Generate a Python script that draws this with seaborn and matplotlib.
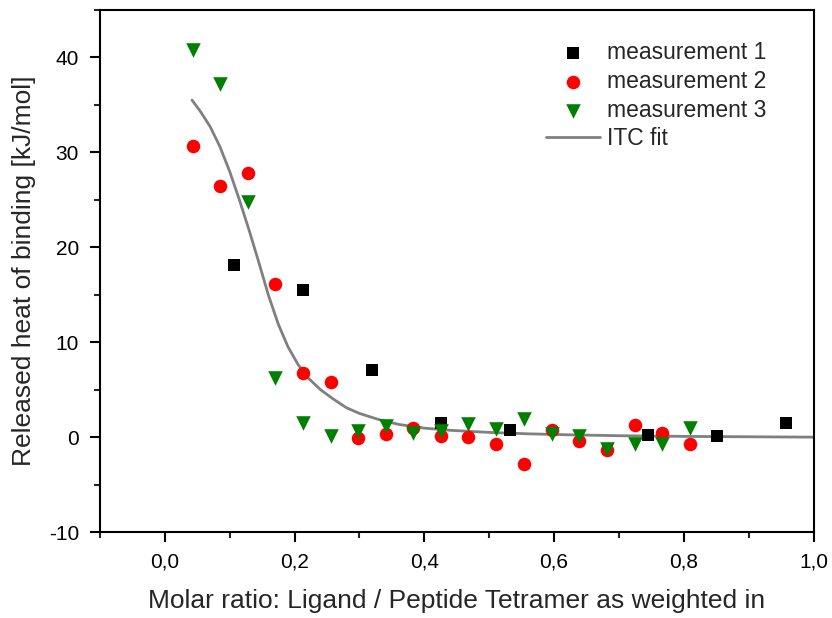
import numpy as np
import pandas as pd
import matplotlib
matplotlib.use("Agg")
import matplotlib.pyplot as plt
import seaborn as sns
from matplotlib.ticker import MultipleLocator, FuncFormatter

# data
m1_x = [0.106, 0.213, 0.319, 0.426, 0.532, 0.745, 0.851, 0.958]
m1_y = [18.1, 15.5, 7.1, 1.5, 0.8, 0.2, 0.1, 1.5]

m23_x = [0.043, 0.085, 0.128, 0.170, 0.213, 0.256, 0.298, 0.341, 0.383, 0.426,
         0.468, 0.511, 0.553, 0.596, 0.639, 0.681, 0.724, 0.766, 0.809]
m2_y = [30.7, 26.5, 27.8, 16.1, 6.8, 5.8, -0.1, 0.3, 1.0, 0.1,
        0.0, -0.7, -2.8, 0.8, -0.4, -1.4, 1.3, 0.4, -0.7]
m3_y = [40.8, 37.2, 24.8, 6.2, 1.5, 0.1, 0.7, 1.2, 0.4, 0.7,
        1.4, 0.9, 1.9, 0.3, 0.15, -1.2, -0.7, -0.7, 1.0]

# ITC fit curve
fit_x = [0.042, 0.055, 0.07, 0.085, 0.10, 0.115, 0.13, 0.145, 0.16, 0.175,
         0.19, 0.205, 0.22, 0.24, 0.26, 0.28, 0.30, 0.33, 0.36, 0.40,
         0.44, 0.50, 0.56, 0.62, 0.70, 0.80, 0.90, 1.0]
fit_y = [35.5, 34.3, 32.7, 30.6, 28.0, 25.0, 21.8, 18.4, 14.9, 11.9,
         9.5, 7.7, 6.3, 5.0, 4.0, 3.1, 2.5, 1.85, 1.35, 0.95,
         0.72, 0.5, 0.35, 0.25, 0.15, 0.08, 0.04, 0.0]

sns.set_style("ticks")
plt.rcParams['font.family'] = ['Liberation Sans', 'DejaVu Sans']

fig = plt.figure(figsize=(8.32, 6.18), dpi=100)
ax = fig.add_axes([0.120, 0.139, 0.858, 0.845])

sns.scatterplot(x=m1_x, y=m1_y, marker='s', s=70, color='black', linewidth=0,
                label='measurement 1', ax=ax, zorder=3)
sns.scatterplot(x=m23_x, y=m2_y, marker='o', s=95, color='#ff0000', linewidth=0,
                label='measurement 2', ax=ax, zorder=3)
sns.scatterplot(x=m23_x, y=m3_y, marker='v', s=110, color='#008000', linewidth=0,
                label='measurement 3', ax=ax, zorder=3)
sns.lineplot(x=fit_x, y=fit_y, color='#808080', linewidth=2, label='ITC fit',
             ax=ax, zorder=2, sort=False)

ax.set_xlim(-0.1, 1.0)
ax.set_ylim(-10, 45)
ax.xaxis.set_major_locator(MultipleLocator(0.2))
ax.xaxis.set_minor_locator(MultipleLocator(0.1))
ax.yaxis.set_major_locator(MultipleLocator(10))
ax.yaxis.set_minor_locator(MultipleLocator(5))
ax.xaxis.set_major_formatter(FuncFormatter(
    lambda v, p: "" if v < -0.01 else f"{v:.1f}".replace(".", ",")))
ax.yaxis.set_major_formatter(FuncFormatter(lambda v, p: f"{v:.0f}"))

for s in ax.spines.values():
    s.set_linewidth(1.5)
    s.set_color('black')
ax.tick_params(which='major', direction='out', length=7, width=1.5,
               labelsize=15, colors='black', top=False, right=False, pad=8)
ax.tick_params(which='minor', direction='out', length=4, width=1.5,
               top=False, right=False)

ax.set_xlabel("Molar ratio: Ligand / Peptide Tetramer as weighted in",
              fontsize=19, labelpad=12)
ax.set_ylabel("Released heat of binding [kJ/mol]", fontsize=19, labelpad=9)

ax.legend(loc='upper left', bbox_to_anchor=(0.625, 0.94), frameon=False,
          borderpad=0, borderaxespad=0, fontsize=16.5, handlelength=2.35,
          handletextpad=0.3, labelspacing=0.25)

fig.savefig("out.png", dpi=100)
